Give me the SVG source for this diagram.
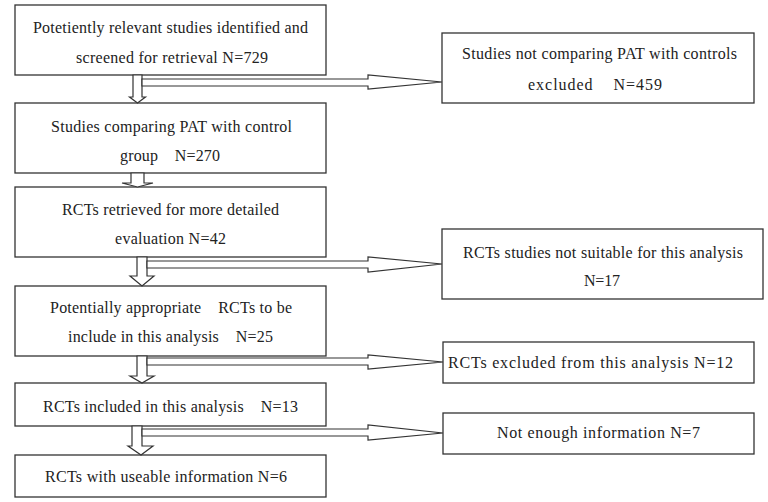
<svg xmlns="http://www.w3.org/2000/svg" width="768" height="502" viewBox="0 0 768 502">
<style>
.box{fill:#fff;stroke:#333;stroke-width:1.3}
.arr{fill:#fff;stroke:#333;stroke-width:1.2;stroke-linejoin:miter}
text{font-family:'Liberation Serif','Times New Roman',Times,'DejaVu Serif',serif;font-size:16px;fill:#222;text-anchor:middle}
</style>
<rect width="768" height="502" fill="#fff"/>
<g id="n1"><rect class="box" x="15" y="5" width="311" height="70"/>
<text x="170.5" y="33" textLength="275" lengthAdjust="spacing">Potetiently relevant studies identified and</text>
<text x="172" y="63" textLength="192" lengthAdjust="spacing">screened for retrieval N=729</text></g>
<g id="n2"><rect class="box" x="15" y="103" width="311" height="70"/>
<text x="171.5" y="132" textLength="241" lengthAdjust="spacing">Studies comparing PAT with control</text>
<text x="170" y="161" textLength="100" lengthAdjust="spacing" xml:space="preserve">group    N=270</text></g>
<g id="n3"><rect class="box" x="15" y="187" width="311" height="70"/>
<text x="170.5" y="215" textLength="217" lengthAdjust="spacing">RCTs retrieved for more detailed</text>
<text x="170.5" y="244" textLength="111" lengthAdjust="spacing">evaluation N=42</text></g>
<g id="n4"><rect class="box" x="15" y="286" width="311" height="70"/>
<text x="171" y="313" textLength="242" lengthAdjust="spacing" xml:space="preserve">Potentially appropriate    RCTs to be</text>
<text x="170.5" y="342" textLength="205" lengthAdjust="spacing" xml:space="preserve">include in this analysis    N=25</text></g>
<g id="n5"><rect class="box" x="15" y="383" width="311" height="43"/>
<text x="170.5" y="412" textLength="255" lengthAdjust="spacing" xml:space="preserve">RCTs included in this analysis    N=13</text></g>
<g id="n6"><rect class="box" x="15" y="455" width="311" height="42"/>
<text x="166" y="482" textLength="242" lengthAdjust="spacing">RCTs with useable information N=6</text></g>
<g id="r1"><rect class="box" x="442" y="33" width="312" height="70"/>
<text x="599.5" y="59" textLength="275" lengthAdjust="spacing">Studies not comparing PAT with controls</text>
<text x="595" y="90" textLength="134" lengthAdjust="spacing" xml:space="preserve">excluded    N=459</text></g>
<g id="r2"><rect class="box" x="442" y="229" width="321" height="70"/>
<text x="603" y="258" textLength="280" lengthAdjust="spacing">RCTs studies not suitable for this analysis</text>
<text x="602" y="286" textLength="36" lengthAdjust="spacing">N=17</text></g>
<g id="r3"><rect class="box" x="443" y="342" width="311" height="41"/>
<text x="590.5" y="368" textLength="285" lengthAdjust="spacing">RCTs excluded from this analysis N=12</text></g>
<g id="r4"><rect class="box" x="443" y="413" width="311" height="41"/>
<text x="598.5" y="438" textLength="203" lengthAdjust="spacing">Not enough information N=7</text></g>
<g id="connectors">
<polygon class="arr" points="133,75 133,97 129.5,97 137.5,103 145.5,97 142,97 142,75"/>
<polygon class="arr" points="142,79 368,79 368,75 442,82 368,89 368,86 142,86"/>
<polygon class="arr" points="131,173 131,183 122,183 137.5,187 153,183 144,183 144,173"/>
<polygon class="arr" points="137,257 137,276 130,276 142,286 154,276 147,276 147,257"/>
<polygon class="arr" points="147,261 368,261 368,257 442,264 368,272 368,268 147,268"/>
<polygon class="arr" points="137,356 137,376 130,376 142,383 154,376 147,376 147,356"/>
<polygon class="arr" points="147,358 368,358 368,355 443,362 368,369 368,365 147,365"/>
<polygon class="arr" points="132,426 132,446 128,446 141,455 153,446 142,446 142,426"/>
<polygon class="arr" points="142,429 368,429 368,425 443,433 368,440 368,436 142,436"/>
</g>
</svg>
